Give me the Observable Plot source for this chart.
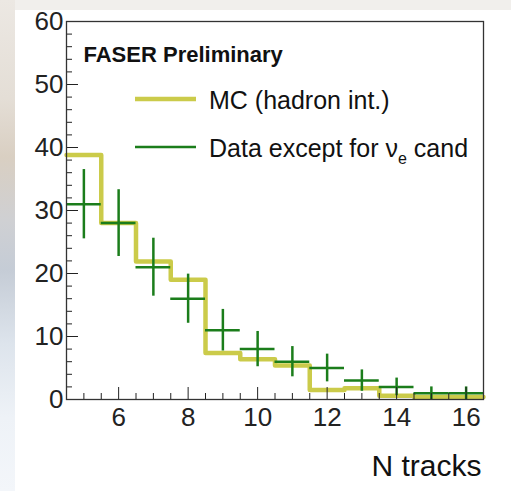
<!DOCTYPE html>
<html>
<head>
<meta charset="utf-8">
<script src="https://cdn.jsdelivr.net/npm/d3@7"></script>
<script src="https://cdn.jsdelivr.net/npm/@observablehq/plot@0.6"></script>
<style>
  html, body { margin: 0; padding: 0; }
  body { width: 511px; height: 491px; position: relative; overflow: hidden; background: #f1efec; font-family: "Liberation Sans", Arial, sans-serif; }
  #strip { position: absolute; left: 0; top: 0; width: 15px; height: 491px;
    background: linear-gradient(to bottom, #ece8e3 0%, #e4ded6 20%, #d9cfc2 32%, #cfd0d3 45%, #c5ccd6 55%, #dde4ec 70%, #eef2f7 85%, #f3f6fa 100%); }
  #paper { position: absolute; left: 15px; top: 10px; width: 496px; height: 481px; background: #fff; }
  #chart { position: absolute; left: 0; top: 0; }
</style>
</head>
<body>
<div id="strip"></div>
<div id="paper"></div>
<div id="chart"></div>
<script>
// Bin centres (N tracks)
const bins = [5, 6, 7, 8, 9, 10, 11, 12, 13, 14, 15, 16];
// MC (hadron int.) expected counts
const mcValues = [38.8, 28.0, 21.9, 19.0, 7.4, 6.4, 5.4, 1.5, 1.8, 0.6, 0.4, 0.4];
// Data counts and errors
const dataValues = [31, 28, 21, 16, 11, 8, 6, 5, 3, 2, 1, 1];
const dataErrors = [5.5, 5.3, 4.6, 3.9, 3.3, 2.8, 2.4, 2.2, 1.7, 1.4, 1.0, 1.0];
// Axis ticks
const xMajorTicks = [6, 8, 10, 12, 14, 16];
const xMinorTicks = [5, 5.5, 6.5, 7, 7.5, 8.5, 9, 9.5, 10.5, 11, 11.5, 12.5, 13, 13.5, 14.5, 15, 15.5, 16.5];
const yMajorTicks = [0, 10, 20, 30, 40, 50, 60];
const yMinorTicks = [2, 4, 6, 8, 12, 14, 16, 18, 22, 24, 26, 28, 32, 34, 36, 38, 42, 44, 46, 48, 52, 54, 56, 58];

const binWidth = 1;
const mcColor = "#cbcb4a";
const dataColor = "#1b7d1b";

const mcLine = bins.map((b, i) => ({x: b - binWidth / 2, y: mcValues[i]}));
mcLine.push({x: bins[bins.length - 1] + binWidth / 2, y: mcValues[mcValues.length - 1]});
const dataTable = bins.map((b, i) => ({
  x: b, x1: b - binWidth / 2, x2: b + binWidth / 2,
  y: dataValues[i], lo: dataValues[i] - dataErrors[i], hi: dataValues[i] + dataErrors[i]
}));

const axisColor = "#222";
const plot = Plot.plot({
  width: 511,
  height: 491,
  marginLeft: 66,
  marginRight: 28,
  marginTop: 21,
  marginBottom: 92,
  style: {background: "transparent", fontFamily: "'Liberation Sans', Arial, sans-serif", color: axisColor, overflow: "visible"},
  x: {domain: [4.5, 16.5]},
  y: {domain: [0, 60]},
  marks: [
    Plot.line(mcLine, {x: "x", y: "y", curve: "step-after", stroke: mcColor, strokeWidth: 4.5}),
    Plot.ruleX(dataTable, {x: "x", y1: "lo", y2: "hi", stroke: dataColor, strokeWidth: 2.5}),
    Plot.ruleY(dataTable, {y: "y", x1: "x1", x2: "x2", stroke: dataColor, strokeWidth: 2.5}),
    // ticks (inward)
    Plot.axisX({ticks: xMajorTicks, tickSize: -12, tickFormat: () => "", label: null, stroke: axisColor}),
    Plot.axisX({ticks: xMinorTicks, tickSize: -6, tickFormat: () => "", label: null, stroke: axisColor}),
    Plot.axisY({ticks: yMajorTicks, tickSize: -12, tickFormat: () => "", label: null, stroke: axisColor}),
    Plot.axisY({ticks: yMinorTicks, tickSize: -6, tickFormat: () => "", label: null, stroke: axisColor}),
    // labels
    Plot.axisX({ticks: xMajorTicks, tickSize: 0, tickPadding: 8, fontSize: 26, label: null, fill: axisColor}),
    Plot.axisY({ticks: yMajorTicks, tickSize: 0, tickPadding: 3, fontSize: 26, label: null, fill: axisColor}),
    Plot.frame({stroke: "#333", strokeWidth: 1.3}),
    Plot.text(["N tracks"], {frameAnchor: "bottom-right", dy: 76, dx: -2, textAnchor: "end", fontSize: 30, fill: "#111"}),
    Plot.text(["FASER Preliminary"], {frameAnchor: "top-left", dx: 17, dy: 25, textAnchor: "start", fontSize: 22, fontWeight: "bold", fill: "#111"})
  ]
});
document.getElementById("chart").appendChild(plot);

// Legend
const svg = d3.select(plot);
const legend = svg.append("g")
  .attr("font-family", "'Liberation Sans', Arial, sans-serif")
  .attr("font-size", 25).attr("fill", "#111").attr("text-anchor", "start");
const items = [
  {color: mcColor, width: 4.5, y: 99},
  {color: dataColor, width: 2.5, y: 147}
];
items.forEach(it => {
  legend.append("line").attr("x1", 135).attr("x2", 196).attr("y1", it.y).attr("y2", it.y)
    .attr("stroke", it.color).attr("stroke-width", it.width);
});
legend.append("text").attr("x", 209).attr("y", 100).attr("dy", "0.35em").text("MC (hadron int.)");
const t2 = legend.append("text").attr("x", 209).attr("y", 148).attr("dy", "0.35em");
t2.append("tspan").text("Data except for ν");
t2.append("tspan").attr("font-size", 16).attr("dy", 7).text("e");
t2.append("tspan").attr("dy", -7).text(" cand");
</script>
</body>
</html>
